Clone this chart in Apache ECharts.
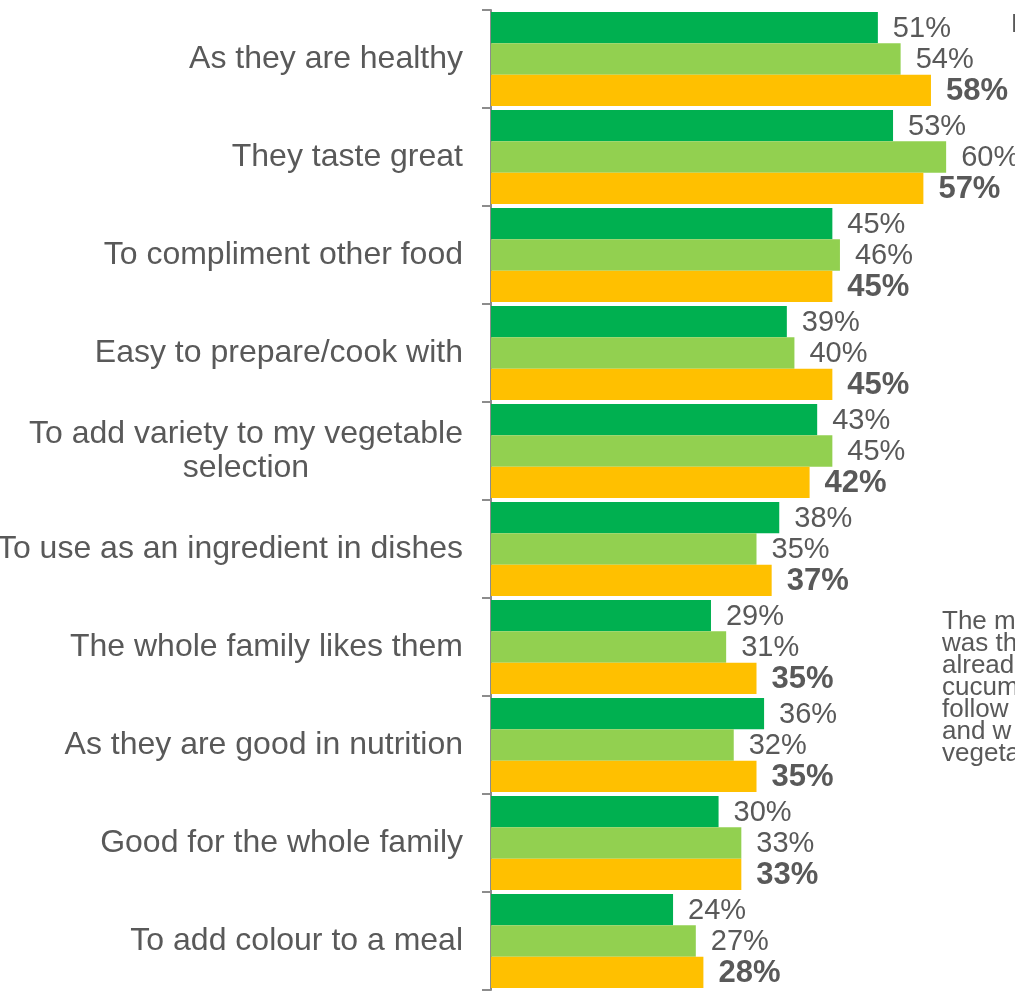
<!DOCTYPE html>
<html>
<head>
<meta charset="utf-8">
<style>
  html, body { margin: 0; padding: 0; background: #ffffff; }
  #chart { width: 1015px; height: 993px; }
</style>
<script src="https://cdn.jsdelivr.net/npm/echarts@6/dist/echarts.min.js"></script>
</head>
<body>
<div id="chart"></div>
<script>
// Reasons for buying, share of respondents (%)
const categories = [
  'As they are healthy',
  'They taste great',
  'To compliment other food',
  'Easy to prepare/cook with',
  'To add variety to my vegetable\nselection',
  'To use as an ingredient in dishes',
  'The whole family likes them',
  'As they are good in nutrition',
  'Good for the whole family',
  'To add colour to a meal'
];
const seriesNames = ['Group 1', 'Group 2', 'Group 3'];
const group1 = [51, 53, 45, 39, 43, 38, 29, 36, 30, 24];
const group2 = [54, 60, 46, 40, 45, 35, 31, 32, 33, 27];
const group3 = [58, 57, 45, 45, 42, 37, 35, 35, 33, 28];
const colours = ['#00B050', '#92D050', '#FFC000'];

// Side commentary, partly outside the visible area
const noteLines = ['The m', 'was th', 'alread', 'cucum', 'follow', 'and w', 'vegeta'];

const FONT = '"Liberation Sans", Arial, Helvetica, sans-serif';
const GREY = '#595959';

const chart = echarts.init(document.getElementById('chart'), null, { renderer: 'canvas' });

function barSeries(name, data, colour, bold) {
  return {
    name: name,
    type: 'bar',
    data: data,
    barGap: '0%',
    barCategoryGap: '4%',
    itemStyle: { color: colour },
    label: {
      show: true,
      position: 'right',
      distance: 15,
      offset: [0, 1],
      formatter: '{c}%',
      color: GREY,
      fontFamily: FONT,
      fontSize: bold ? 31 : 29,
      fontWeight: bold ? 'bold' : 'normal'
    },
    animation: false
  };
}

chart.setOption({
  animation: false,
  backgroundColor: '#ffffff',
  grid: {
    left: 491, top: 10, width: 531, height: 980,
    containLabel: false,
    outerBoundsMode: 'none'
  },
  xAxis: {
    type: 'value',
    min: 0,
    max: 70,
    show: false,
    splitLine: { show: false }
  },
  yAxis: {
    type: 'category',
    inverse: true,
    data: categories,
    axisLine: { show: true, lineStyle: { color: '#8c8c8c', width: 2 } },
    axisTick: { show: true, length: 9, lineStyle: { color: '#8c8c8c', width: 2 } },
    splitLine: { show: false },
    axisLabel: {
      margin: 28,
      color: GREY,
      fontFamily: FONT,
      fontSize: 32,
      formatter: function (v) {
        if (v.indexOf('\n') < 0) return v;
        return v.split('\n').map(function (s) { return '{c|' + s + '}'; }).join('\n');
      },
      rich: {
        c: { align: 'center', fontSize: 32, lineHeight: 34, color: GREY, fontFamily: FONT }
      }
    }
  },
  series: [
    barSeries(seriesNames[0], group1, colours[0], false),
    barSeries(seriesNames[1], group2, colours[1], false),
    barSeries(seriesNames[2], group3, colours[2], true)
  ],
  graphic: [
    {
      type: 'text',
      left: 942,
      top: 609,
      style: {
        text: noteLines.join('\n'),
        fill: GREY,
        font: '26px ' + FONT,
        lineHeight: 22
      }
    },
    {
      type: 'text',
      left: 1011,
      top: 12,
      style: { text: 'N', fill: GREY, font: '26px ' + FONT }
    }
  ]
});
</script>
</body>
</html>
